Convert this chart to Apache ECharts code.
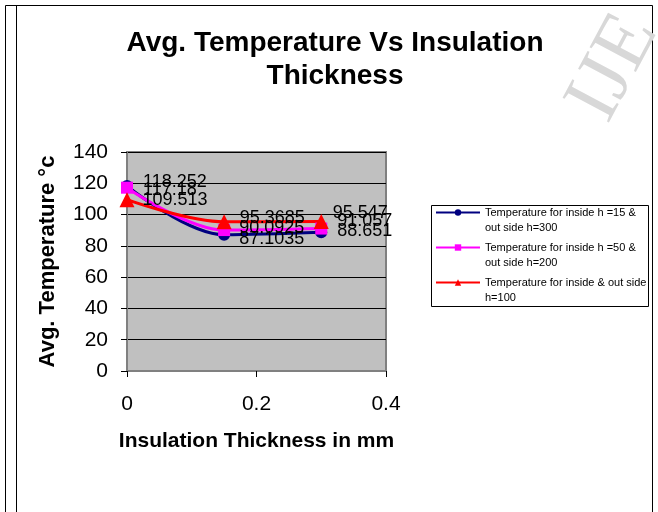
<!DOCTYPE html>
<html>
<head>
<meta charset="utf-8">
<script src="https://cdn.jsdelivr.net/npm/echarts@6/dist/echarts.min.js"></script>
<style>
  html, body { margin: 0; padding: 0; background: #fff; }
  #main { width: 658px; height: 512px; }
</style>
</head>
<body>
<div id="main"></div>
<script>
// 厚度 (mm)
var thickness = [0, 0.15, 0.3];
// 三组温度数据
var tempH15 = [118.252, 87.1035, 88.651];
var tempH50 = [117.18, 90.0925, 91.057];
var tempH100 = [109.513, 95.3685, 95.547];
var seriesNames = [
  'Temperature for inside h =15 &\nout side h=300',
  'Temperature for inside h =50 &\nout side h=200',
  'Temperature for inside & out side\nh=100'
];
// 数据标签的微调偏移 (像素)，模仿原图里标签的错位
var labelShift = [
  [[10, -4], [9, 4], [10, -1]],
  [[10, 2], [9, -2], [10, -8]],
  [[8, 0], [8, -4], [4, -9]]
];

var font = 'Liberation Sans, Arial, sans-serif';

function points(ys, shifts) {
  return thickness.map(function(x, i) {
    return { value: [x, ys[i]], label: { offset: shifts[i] } };
  });
}

function lineSeries(name, ys, shifts, color, symbol, size) {
  return {
    name: name,
    type: 'line',
    smooth: 0.35,
    data: points(ys, shifts),
    symbol: symbol,
    symbolSize: size,
    lineStyle: { color: color, width: 3 },
    itemStyle: { color: color },
    label: {
      show: true,
      position: 'right',
      distance: 0,
      color: '#000',
      fontFamily: font,
      fontSize: 18,
      formatter: function(p) { return p.value[1]; }
    },
    emphasis: { disabled: true }
  };
}

var chart = echarts.init(document.getElementById('main'));
var option = {
  backgroundColor: '#fff',
  animation: false,
  title: {
    text: 'Avg. Temperature Vs Insulation\nThickness',
    left: 330,
    top: 22,
    textAlign: 'center',
    textStyle: {
      fontFamily: font,
      fontSize: 28,
      fontWeight: 'bold',
      color: '#000',
      lineHeight: 33
    }
  },
  // 图例边框用 graphic 画；前面加一个空行，让图标对齐第一行文字
  legend: {
    orient: 'vertical',
    left: 435,
    top: 190,
    padding: 0,
    itemGap: -10,
    itemWidth: 44,
    itemHeight: 8,
    borderWidth: 0,
    formatter: function(name) { return '\n' + name; },
    textStyle: { fontFamily: font, fontSize: 11, color: '#000', lineHeight: 15 },
    data: seriesNames
  },
  grid: {
    left: 127,
    right: 272,
    top: 152,
    bottom: 141,
    show: true,
    backgroundColor: '#c0c0c0',
    borderColor: '#808080',
    borderWidth: 2
  },
  xAxis: {
    type: 'value',
    min: 0,
    max: 0.4,
    interval: 0.2,
    name: 'Insulation Thickness in mm',
    nameLocation: 'middle',
    nameGap: 60,
    nameTextStyle: { fontFamily: font, fontSize: 21, fontWeight: 'bold', color: '#000' },
    axisLine: { show: true, lineStyle: { color: '#808080', width: 1 } },
    axisTick: { show: true, inside: false, length: 6, lineStyle: { color: '#000' } },
    axisLabel: { fontFamily: font, fontSize: 21, color: '#000', margin: 23 },
    splitLine: { show: false }
  },
  yAxis: {
    type: 'value',
    min: 0,
    max: 140,
    interval: 20,
    name: 'Avg. Temperature °c',
    nameLocation: 'middle',
    nameGap: 68,
    nameTextStyle: { fontFamily: font, fontSize: 22, fontWeight: 'bold', color: '#000' },
    axisLine: { show: true, lineStyle: { color: '#808080', width: 2 } },
    axisTick: { show: true, inside: false, length: 6, lineStyle: { color: '#000' } },
    axisLabel: { fontFamily: font, fontSize: 21, color: '#000', margin: 19 },
    splitLine: { show: true, lineStyle: { color: '#000', width: 1 } }
  },
  series: [
    lineSeries(seriesNames[0], tempH15, labelShift[0], '#000080', 'circle', 12),
    lineSeries(seriesNames[1], tempH50, labelShift[1], '#ff00ff', 'rect', 12),
    lineSeries(seriesNames[2], tempH100, labelShift[2], '#ff0000', 'triangle', 15)
  ],
  graphic: [
    {
      type: 'rect',
      shape: { x: 5.5, y: 5.5, width: 647, height: 520 },
      style: { fill: 'none', stroke: '#000', lineWidth: 1 },
      silent: true
    },
    {
      type: 'line',
      shape: { x1: 16.5, y1: 5.5, x2: 16.5, y2: 512 },
      style: { stroke: '#000', lineWidth: 1 },
      silent: true
    },
    {
      type: 'rect',
      z: -1,
      shape: { x: 431.5, y: 205.5, width: 217, height: 101 },
      style: { fill: '#fff', stroke: '#000', lineWidth: 1 },
      silent: true
    },
    {
      type: 'text',
      x: 614,
      y: 68,
      rotation: Math.PI * 62 / 180,
      style: {
        text: 'IJE',
        font: '80px "Liberation Serif", serif',
        fill: '#d8d8d8',
        textAlign: 'center',
        textVerticalAlign: 'middle'
      },
      silent: true
    }
  ]
};
chart.setOption(option);
</script>
</body>
</html>
